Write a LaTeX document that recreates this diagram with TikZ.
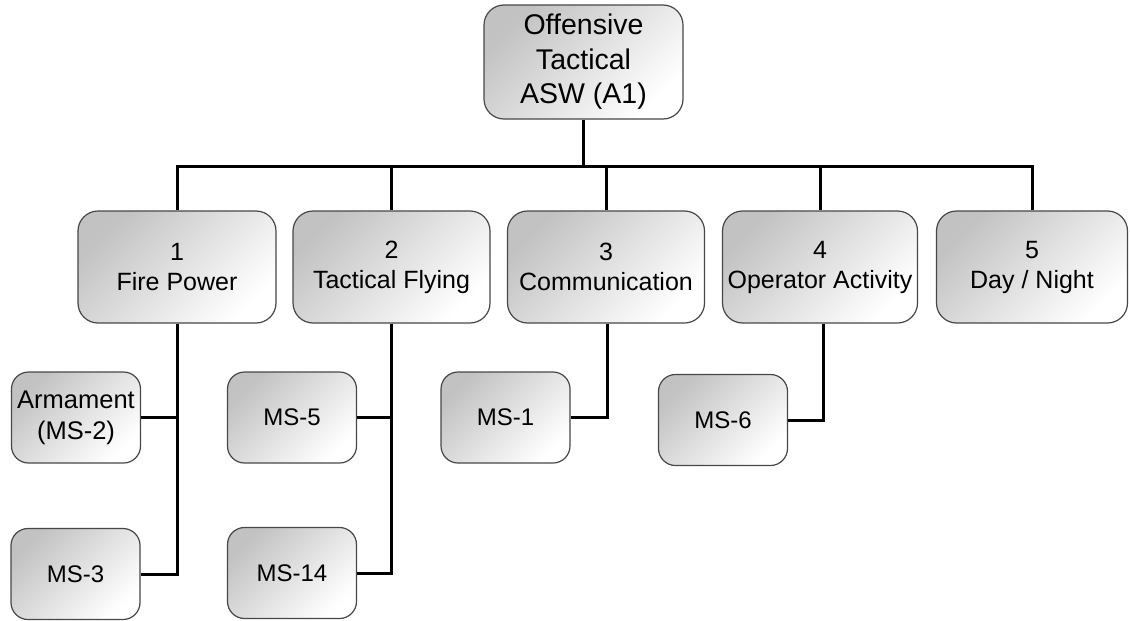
\documentclass[tikz,border=0pt]{standalone}
\usepackage{fontspec}
\setmainfont{Liberation Sans}
\begin{document}
\begin{tikzpicture}[x=1pt,y=-1pt,
  box/.style={draw=black!72, line width=1.2pt, rounded corners=20pt,
    shading=axis, top color=black!24, middle color=black!8, bottom color=white, shading angle=45,
    align=center, inner sep=0pt, font=\fontsize{24}{29}\selectfont},
  topbox/.style={box, minimum width=199pt, minimum height=114pt, font=\fontsize{28.5}{34.5}\selectfont},
  midbox/.style={box, minimum height=112pt, font=\fontsize{25}{30}\selectfont},
  subbox/.style={box, minimum width=129pt, minimum height=91pt, rounded corners=17pt},
  link/.style={line width=3pt, black}]
\useasboundingbox (0,0) rectangle (1130,621);
\node[topbox] (top) at (583.5,62) {Offensive\\Tactical\\ASW (A1)};
\node[midbox, minimum width=198pt] (b1) at (177,267) {1\\Fire Power};
\node[midbox, minimum width=197pt] (b2) at (391.5,267) {2\\Tactical Flying};
\node[midbox, minimum width=197pt] (b3) at (606,267) {3\\Communication};
\node[midbox, minimum width=195pt] (b4) at (820,267) {4\\Operator Activity};
\node[midbox, minimum width=191pt] (b5) at (1032,267) {5\\Day / Night};
\coordinate (bus) at (583.5,166);
\node[subbox, font=\fontsize{25.5}{31}\selectfont] (arm) at (76,417.5) {Armament\\(MS-2)};
\node[subbox] (ms3) at (75.5,574) {MS-3};
\node[subbox] (ms5) at (292,417.5) {MS-5};
\node[subbox] (ms14) at (292,573) {MS-14};
\node[subbox] (ms1) at (505.5,417.5) {MS-1};
\node[subbox] (ms6) at (723,420) {MS-6};
\draw[link] (top.south) -- (bus);
\draw[link] (b1.north) |- (bus) -| (b5.north);
\foreach \b in {b2,b3,b4} \draw[link] (bus) -| (\b.north);
\draw[link] (b1.south) |- (arm.east);
\draw[link] (b1.south) |- (ms3.east);
\draw[link] (b2.south) |- (ms5.east);
\draw[link] (b2.south) |- (ms14.east);
\draw[link] ([xshift=1pt]b3.south) |- (ms1.east);
\draw[link] ([xshift=3pt]b4.south) |- (ms6.east);
\end{tikzpicture}
\end{document}
